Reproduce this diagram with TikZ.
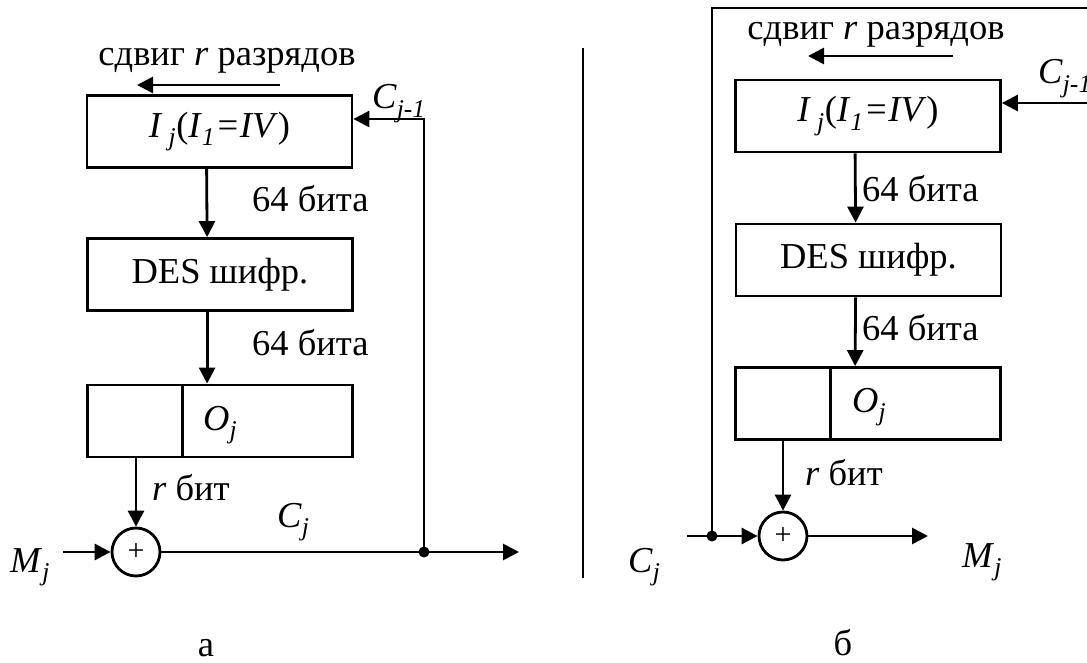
\documentclass[tikz,border=0pt]{standalone}
\usepackage{fontspec}
\setmainfont{Liberation Serif}
\usetikzlibrary{arrows.meta,calc}
\begin{document}
\begin{tikzpicture}[x=1pt,y=-1pt,
  every node/.style={font=\fontsize{36.5}{42}\selectfont, inner sep=0pt},
  blk/.style={draw, line width=2.8pt, minimum width=265pt, minimum height=72pt},
  ln/.style={line width=2.8pt, line join=miter},
  arr/.style={line width=2.8pt, line join=miter, -{Triangle[length=16pt,width=16pt]}},
  sumnode/.style={draw, circle, line width=2.8pt, minimum size=48pt, font=\fontsize{30}{34}\selectfont},
  dotnode/.style={circle, fill, minimum size=11pt},
  lbl/.style={anchor=base west},
  ctr/.style={anchor=base},
]
\useasboundingbox (0,0) rectangle (1087,663);
\clip (0,0) rectangle (1087,663);

% ---------- left panel (a) ----------
\node[ctr] (shL) at (227,66) {сдвиг \textit{r} разрядов};
\coordinate (shLa) at (280,85);
\coordinate (shLb) at (137,85);
\draw[arr] (shLa) -- (shLb);

\node[blk] (L1) at (219.5,131.5) {\textit{I}\,\textsubscript{\textit{j}}(\textit{I}\textsubscript{\textit{1}}\textit{=IV})};
\node[lbl] (LCj1) at (372,109) {\textit{C}\textsubscript{\textit{j-1}}};
\node[blk] (L2) at (220,274.5) {DES шифр.};
\node[blk] (L3) at (220,421) {};
\draw[ln] ([xshift=96pt]L3.north west) -- ([xshift=96pt]L3.south west);
\node[lbl] (LO) at (203,430) {\textit{O}\textsubscript{\textit{j}}};

\node[lbl] (L64a) at (252,212) {64 бита};
\node[lbl] (L64b) at (252,355) {64 бита};
\draw[arr] ([xshift=121pt]L1.south west) -- ([xshift=121pt]L2.north west);
\draw[arr] ([xshift=121pt]L2.south west) -- ([xshift=121pt]L3.north west);

\node[sumnode] (LS) at (136,552) {\raisebox{-7pt}{+}};
\draw[arr] (LS.north |- L3.south) -- (LS.north);
\node[lbl] (Lr) at (152,500) {\textit{r} бит};
\node[lbl] (LCj) at (277,527) {\textit{C}\textsubscript{\textit{j}}};
\node[lbl] (LM) at (10,572) {\textit{M}\textsubscript{\textit{j}}};
\coordinate (LMin) at (63,552);
\draw[arr] (LMin) -- (LS.west);
\coordinate (Ldot) at (424,552);
\coordinate (Lout) at (519,552);
\draw[arr] (LS.east) -- (Lout);
\draw[arr] (Ldot) |- ([yshift=12.5pt]L1.east);
\node[dotnode] (LD) at (Ldot) {};
\node[ctr] (La) at (206,656) {а};

% ---------- separator ----------
\coordinate (sepT) at (583,48);
\coordinate (sepB) at (583,578);
\draw[line width=2.2pt] (sepT) -- (sepB);

% ---------- right panel (b) ----------
\node[ctr] (shR) at (876,40) {сдвиг \textit{r} разрядов};
\coordinate (shRa) at (953,56);
\coordinate (shRb) at (808,56);
\draw[arr] (shRa) -- (shRb);

\node[blk] (R1) at (868,116) {\textit{I}\,\textsubscript{\textit{j}}(\textit{I}\textsubscript{\textit{1}}\textit{=IV})};
\node[lbl] (RCj1) at (1038,84) {\textit{C}\textsubscript{\textit{j-1}}};
\node[blk] (R2) at (868.5,260) {DES шифр.};
\node[blk] (R3) at (868,403.5) {};
\draw[ln] ([xshift=96pt]R3.north west) -- ([xshift=96pt]R3.south west);
\node[lbl] (RO) at (852,412) {\textit{O}\textsubscript{\textit{j}}};

\node[lbl] (R64a) at (862,202) {64 бита};
\node[lbl] (R64b) at (862,340) {64 бита};
\draw[arr] ([xshift=121pt]R1.south west) -- ([xshift=121pt]R2.north west);
\draw[arr] ([xshift=121pt]R2.south west) -- ([xshift=121pt]R3.north west);

\node[sumnode] (RS) at (783,536) {\raisebox{-5pt}{+}};
\draw[arr] (RS.north |- R3.south) -- (RS.north);
\node[lbl] (Rr) at (805,485) {\textit{r} бит};
\node[lbl] (RCj) at (628,572) {\textit{C}\textsubscript{\textit{j}}};
\node[lbl] (RM) at (962,567) {\textit{M}\textsubscript{\textit{j}}};
\coordinate (Rin) at (687,536);
\coordinate (Rdot) at (712,536);
\coordinate (Rtop) at (712,8);
\coordinate (Rtopr) at (1095,8);
\coordinate (Rfb) at (1095,103);
\coordinate (Rout) at (928,536);
\draw[arr] (Rin) -- (RS.west);
\draw[arr] (RS.east) -- (Rout);
\draw[ln] (Rdot) -- (Rtop) -- (Rtopr);
\draw[arr] (Rfb) -- ([yshift=13pt]R1.east);
\node[dotnode] (RD) at (Rdot) {};
\node[ctr] (Rb) at (843,655) {б};
\end{tikzpicture}
\end{document}
